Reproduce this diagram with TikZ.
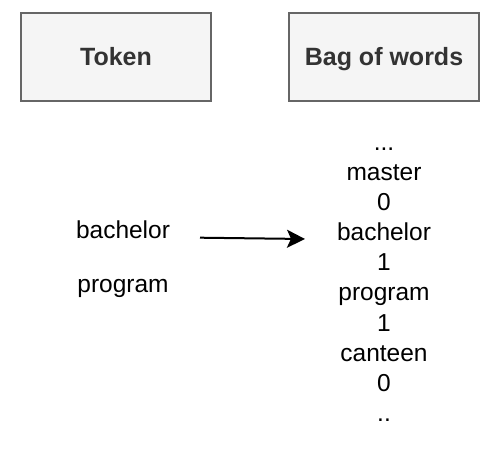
\documentclass[tikz,border=0pt]{standalone}
\usepackage{fontspec}
\setmainfont{Liberation Sans}
\usetikzlibrary{arrows.meta}
\definecolor{boxfill}{HTML}{F5F5F5}
\definecolor{boxline}{HTML}{666666}
\definecolor{boxtext}{HTML}{333333}
\begin{document}
\begin{tikzpicture}[x=1pt,y=1pt,
  header/.style={draw=boxline, fill=boxfill, line width=2pt, minimum width=190pt, minimum height=88pt,
    inner sep=0pt, text height=18pt, text depth=0pt, font=\fontsize{25}{30}\selectfont\bfseries, text=boxtext},
  plain/.style={inner sep=0pt, anchor=base, font=\fontsize{24.5}{29}\selectfont, text=black},
  conn/.style={line width=2pt, -{Stealth[length=18pt,width=18pt,inset=4pt]}}]
\useasboundingbox (0,0) rectangle (491,-452);
\node[header] (token) at (116,-57) {Token};
\node[header] (bow) at (384,-57) {Bag of words};
\node[plain] (lb) at (123,-238) {bachelor};
\node[plain] (lp) at (123,-292) {program};
\node[plain] (w0) at (384,-150) {...};
\node[plain] (w1) at (384,-180.2) {master};
\node[plain] (w2) at (384,-210.4) {0};
\node[plain] (w3) at (384,-240.6) {bachelor};
\node[plain] (w4) at (384,-270.8) {1};
\node[plain] (w5) at (384,-301) {program};
\node[plain] (w6) at (384,-331.2) {1};
\node[plain] (w7) at (384,-361.4) {canteen};
\node[plain] (w8) at (384,-391.6) {0};
\node[plain] (w9) at (384,-421.8) {..};
\coordinate (a0) at (200,-237.7);
\coordinate (a1) at (305,-239);
\draw[conn] (a0) -- (a1);
\end{tikzpicture}
\end{document}
